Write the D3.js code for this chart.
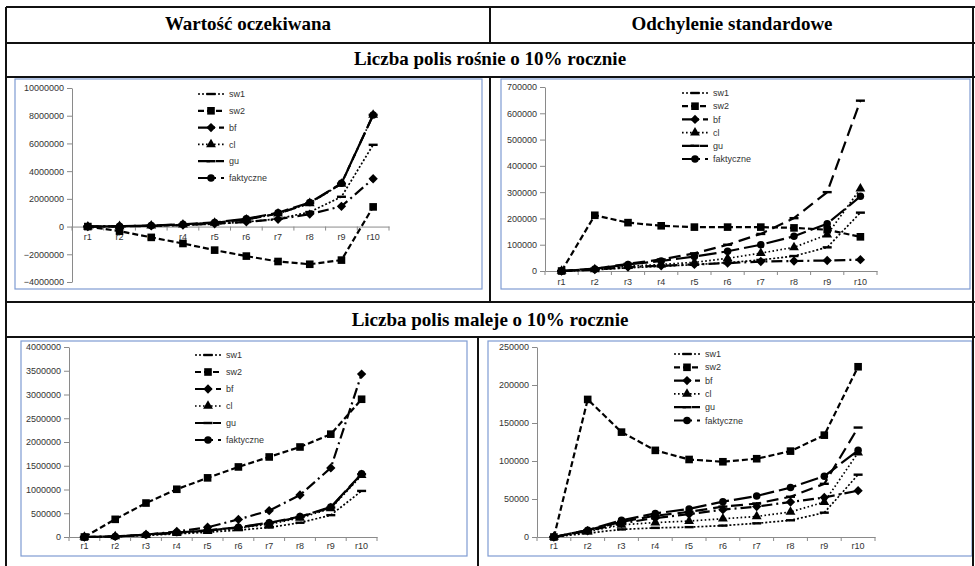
<!DOCTYPE html>
<html><head><meta charset="utf-8">
<script src="https://cdn.jsdelivr.net/npm/d3@7"></script>
<style>body{margin:0;background:#fff}svg{display:block}</style>
</head><body>
<svg id="c" width="975" height="566"></svg>
<script>
// Categories (years) and series names
const categories = ["r1","r2","r3","r4","r5","r6","r7","r8","r9","r10"];
const seriesNames = ["sw1","sw2","bf","cl","gu","faktyczne"];
const columnTitles = ["Wartość oczekiwana","Odchylenie standardowe"];
const rowTitles = ["Liczba polis rośnie o 10% rocznie","Liczba polis maleje o 10% rocznie"];

// Expected value, number of policies growing 10% a year
const evUpSw1  = [0, 15000, 45000, 100000, 190000, 330000, 560000, 1050000, 2150000, 5900000];
const evUpSw2  = [0, -330000, -780000, -1220000, -1700000, -2130000, -2520000, -2720000, -2420000, 1420000];
const evUpBf   = [0, 15000, 50000, 110000, 200000, 340000, 530000, 900000, 1460000, 3450000];
const evUpCl   = [0, 20000, 65000, 140000, 270000, 500000, 930000, 1680000, 3080000, 8050000];
const evUpGu   = [0, 20000, 65000, 145000, 275000, 510000, 940000, 1690000, 3100000, 8060000];
const evUpFakt = [0, 25000, 75000, 160000, 300000, 560000, 1000000, 1730000, 3120000, 8050000];

// Standard deviation, number of policies growing 10% a year
const sdUpSw1  = [0, 4000, 12000, 18000, 24000, 32000, 42000, 57000, 90000, 222000];
const sdUpSw2  = [0, 212000, 184000, 172000, 167000, 167000, 167000, 164000, 157000, 130000];
const sdUpBf   = [0, 5000, 15000, 20000, 25000, 30000, 36000, 38000, 40000, 43000];
const sdUpCl   = [0, 6000, 18000, 25000, 33000, 48000, 68000, 90000, 138000, 313000];
const sdUpGu   = [0, 9000, 27000, 44000, 67000, 100000, 141000, 201000, 300000, 648000];
const sdUpFakt = [0, 8000, 25000, 38000, 55000, 75000, 100000, 132000, 180000, 284000];

// Expected value, number of policies falling 10% a year
const evDownSw1  = [0, 8000, 35000, 65000, 100000, 145000, 200000, 300000, 460000, 970000];
const evDownSw2  = [0, 372000, 715000, 1005000, 1245000, 1475000, 1685000, 1895000, 2165000, 2900000];
const evDownBf   = [0, 12000, 50000, 115000, 205000, 370000, 555000, 885000, 1455000, 3430000];
const evDownCl   = [0, 10000, 40000, 80000, 125000, 190000, 270000, 400000, 600000, 1300000];
const evDownGu   = [0, 10000, 45000, 90000, 135000, 200000, 290000, 420000, 620000, 1320000];
const evDownFakt = [0, 12000, 50000, 95000, 140000, 205000, 300000, 430000, 630000, 1330000];

// Standard deviation, number of policies falling 10% a year
const sdDownSw1  = [0, 5000, 10000, 12000, 13000, 15000, 18000, 22000, 32000, 82000];
const sdDownSw2  = [0, 181000, 138000, 114000, 102000, 99000, 103000, 113000, 134000, 224000];
const sdDownBf   = [0, 8000, 18000, 25000, 30000, 36000, 40000, 46000, 52000, 61000];
const sdDownCl   = [0, 7000, 16000, 19000, 21000, 24000, 27000, 33000, 46000, 111000];
const sdDownGu   = [0, 9000, 20000, 28000, 33000, 40000, 44000, 53000, 70000, 144000];
const sdDownFakt = [0, 9000, 22000, 31000, 37000, 46500, 54000, 65000, 80000, 114000];

// Axis tick values
const evUpTicks   = [-4000000, -2000000, 0, 2000000, 4000000, 6000000, 8000000, 10000000];
const sdUpTicks   = [0, 100000, 200000, 300000, 400000, 500000, 600000, 700000];
const evDownTicks = [0, 500000, 1000000, 1500000, 2000000, 2500000, 3000000, 3500000, 4000000];
const sdDownTicks = [0, 50000, 100000, 150000, 200000, 250000];

const svg = d3.select("#c");
svg.append("rect").attr("width", 975).attr("height", 566).attr("fill", "#fff");

// Line and marker look of each series
const seriesStyle = {
  sw1:       {dash: "2,2",       width: 1.7, marker: "dash"},
  sw2:       {dash: "6,3",       width: 2.2, marker: "square"},
  bf:        {dash: "11,4,2,4",  width: 2.2, marker: "diamond"},
  cl:        {dash: "1.6,2.4",   width: 1.7, marker: "triangle"},
  gu:        {dash: "12,6",      width: 2.2, marker: "dash"},
  faktyczne: {dash: "18,5",      width: 2.2, marker: "circle"}
};

function marker(g, type, cx, cy) {
  if (type === "dash") {
    g.append("rect").attr("x", cx - 4.5).attr("y", cy - 1.2).attr("width", 9).attr("height", 2.4).attr("fill", "#000");
    return;
  }
  if (type === "diamond") {
    g.append("rect").attr("x", -3.3).attr("y", -3.3).attr("width", 6.6).attr("height", 6.6)
      .attr("transform", `translate(${cx},${cy}) rotate(45)`).attr("fill", "#000");
    return;
  }
  const sym = {square: d3.symbolSquare, triangle: d3.symbolTriangle, circle: d3.symbolCircle}[type];
  const size = {square: 58, triangle: 42, circle: 44}[type];
  g.append("path").attr("d", d3.symbol().type(sym).size(size)())
    .attr("transform", `translate(${cx},${cy})`).attr("fill", "#000");
}

const tickFont = "'Liberation Sans', Arial, sans-serif";

function drawPanel(p) {
  const g = svg.append("g");
  g.append("rect").attr("x", p.frame[0]).attr("y", p.frame[1]).attr("width", p.frame[2]).attr("height", p.frame[3])
    .attr("fill", "#fff").attr("stroke", "#7f9cd3").attr("stroke-width", 1.2);

  const x = d3.scaleBand().domain(categories).range(p.xRange);
  const y = d3.scaleLinear().domain(p.domain).range(p.yRange);

  const ya = g.append("g").attr("transform", `translate(${p.xRange[0]},0)`)
    .call(d3.axisLeft(y).tickValues(p.ticks).tickFormat(d3.format("d")).tickSize(5).tickSizeOuter(0).tickPadding(3));
  ya.selectAll("path,line").attr("stroke", "#8a8a8a");
  ya.selectAll("text").attr("font-family", tickFont).attr("font-size", 9).attr("fill", "#333");

  const y0 = y(0);
  const xa = g.append("g").attr("transform", `translate(0,${y0})`)
    .call(d3.axisBottom(x).tickSize(0).tickSizeOuter(0).tickPadding(p.xPad));
  xa.selectAll("path").attr("stroke", "#8a8a8a");
  xa.selectAll("text").attr("font-family", tickFont).attr("font-size", 9).attr("fill", "#333");
  const bounds = categories.map(c => x(c)).concat([x.range()[1]]);
  g.selectAll(null).data(bounds).join("line")
    .attr("x1", d => d).attr("x2", d => d).attr("y1", y0).attr("y2", y0 + 4).attr("stroke", "#8a8a8a");

  const cx = i => x(categories[i]) + x.bandwidth() / 2;
  const line = d3.line().x((d, i) => cx(i)).y(d => y(d));
  p.series.forEach((vals, k) => {
    const st = seriesStyle[seriesNames[k]];
    g.append("path").datum(vals).attr("d", line).attr("fill", "none").attr("stroke", "#000")
      .attr("stroke-width", st.width).attr("stroke-dasharray", st.dash);
    vals.forEach((v, i) => marker(g, st.marker, cx(i), y(v)));
  });

  // Legend
  seriesNames.forEach((name, k) => {
    const st = seriesStyle[name];
    const ly = p.legend[1] + k * p.legend[2];
    const lx = p.legend[0];
    g.append("line").attr("x1", lx).attr("x2", lx + 26).attr("y1", ly).attr("y2", ly)
      .attr("stroke", "#000").attr("stroke-width", st.width).attr("stroke-dasharray", st.dash);
    marker(g, st.marker, lx + 13, ly);
    g.append("text").attr("x", lx + 31).attr("y", ly).attr("dy", "0.35em")
      .attr("font-family", tickFont).attr("font-size", 9).attr("fill", "#333").text(name);
  });
}

drawPanel({frame: [15, 79, 467, 210], xRange: [72, 389], yRange: [282, 88], domain: [-4000000, 10000000],
  ticks: evUpTicks, xPad: 7, legend: [198, 94, 16.8],
  series: [evUpSw1, evUpSw2, evUpBf, evUpCl, evUpGu, evUpFakt]});
drawPanel({frame: [501, 79, 469, 210], xRange: [545, 877], yRange: [271, 87], domain: [0, 700000],
  ticks: sdUpTicks, xPad: 8, legend: [682, 93, 13.2],
  series: [sdUpSw1, sdUpSw2, sdUpBf, sdUpCl, sdUpGu, sdUpFakt]});
drawPanel({frame: [21, 341, 446, 215], xRange: [69, 377], yRange: [537, 347], domain: [0, 4000000],
  ticks: evDownTicks, xPad: 6, legend: [195, 355, 17],
  series: [evDownSw1, evDownSw2, evDownBf, evDownCl, evDownGu, evDownFakt]});
drawPanel({frame: [488, 341, 484, 215], xRange: [537, 875], yRange: [537, 347], domain: [0, 250000],
  ticks: sdDownTicks, xPad: 6, legend: [674, 354, 13.3],
  series: [sdDownSw1, sdDownSw2, sdDownBf, sdDownCl, sdDownGu, sdDownFakt]});

// Table grid
const grid = svg.append("g").attr("stroke", "#111").attr("stroke-width", 2);
[[6, 7, 975, 7], [6, 43, 975, 43], [6, 77, 975, 77], [6, 302, 975, 302], [6, 337, 975, 337],
 [6, 7, 6, 566], [973, 7, 973, 566], [490, 7, 490, 43], [490, 77, 490, 302], [478, 337, 478, 566]]
  .forEach(d => grid.append("line").attr("x1", d[0]).attr("y1", d[1]).attr("x2", d[2]).attr("y2", d[3]));

const head = svg.append("g").attr("font-family", "'Liberation Serif', 'Times New Roman', serif")
  .attr("font-weight", "bold").attr("font-size", 19).attr("text-anchor", "middle").attr("fill", "#000");
head.append("text").attr("x", 248).attr("y", 29.5).text(columnTitles[0]);
head.append("text").attr("x", 732).attr("y", 29.5).text(columnTitles[1]);
head.append("text").attr("x", 490).attr("y", 65).text(rowTitles[0]);
head.append("text").attr("x", 490).attr("y", 326).text(rowTitles[1]);
</script>
</body></html>
